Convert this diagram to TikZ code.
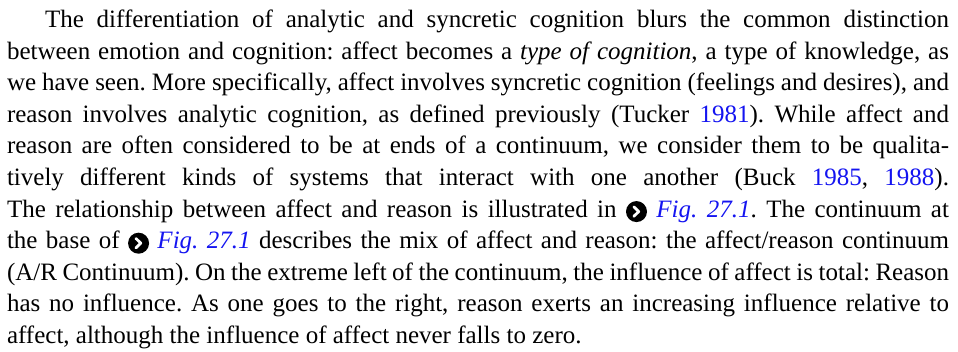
\documentclass[tikz,border=0pt]{standalone}
\usepackage{fontspec}
\usepackage{xcolor}
\usepackage{tikz}
\setmainfont{Liberation Serif}

\definecolor{citeblue}{RGB}{20,20,240}
\newcommand{\yr}[1]{\textcolor{citeblue}{#1}}
\newcommand{\figref}[1]{\textcolor{citeblue}{\emph{Fig.~#1}}}
\newcommand{\figicon}{\tikz[baseline=0pt,x=1pt,y=1pt]{%
  \fill (0,5.5) circle [radius=10.5];
  \draw[white,line width=2.8pt,line cap=round,line join=round]
    (-2.6,10.2) -- (2.2,5.5) -- (-2.6,0.8);}}

\begin{document}
\begin{tikzpicture}
  [x=1pt,y=1pt,every node/.style={anchor=base west,inner sep=0pt,outer sep=0pt,
   font=\fontsize{25}{31.6}\selectfont\frenchspacing}]

  \useasboundingbox (0,0) rectangle (958,352);

  \node (line1) at (45,324.5)
    {\makebox[904pt][s]{The differentiation of analytic and syncretic cognition blurs the common distinction}};

  \foreach \txt [count=\n from 2] in {
    {between emotion and cognition: affect becomes a \emph{type of cognition}, a type of knowledge, as},
    {we have seen. More specifically, affect involves syncretic cognition (feelings and desires), and},
    {reason involves analytic cognition, as defined previously (Tucker \yr{1981}). While affect and},
    {reason are often considered to be at ends of a continuum, we consider them to be qualita-},
    {tively different kinds of systems that interact with one another (Buck \yr{1985}, \yr{1988}).},
    {The relationship between affect and reason is illustrated in \figicon\ \figref{27.1}. The continuum at},
    {the base of \figicon\ \figref{27.1} describes the mix of affect and reason: the affect/reason continuum},
    {(A/R Continuum). On the extreme left of the continuum, the influence of affect is total: Reason},
    {has no influence. As one goes to the right, reason exerts an increasing influence relative to}}
    \node (line\n) at (7,{324.5-(\n-1)*31.6}) {\makebox[942pt][s]{\txt}};

  \node (line11) at (7,8.5) {affect, although the influence of affect never falls to zero.};
\end{tikzpicture}
\end{document}
